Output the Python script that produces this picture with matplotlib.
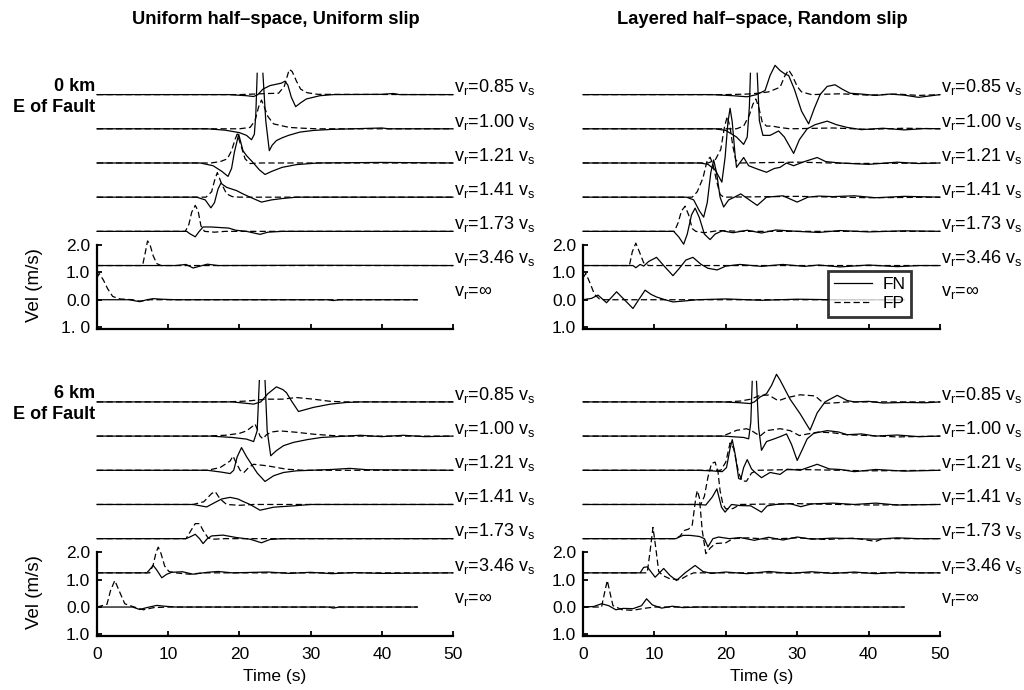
import numpy as np
import matplotlib
matplotlib.use('Agg')
import matplotlib.pyplot as plt
from matplotlib.lines import Line2D

plt.rcParams['font.family'] = ['Liberation Sans', 'DejaVu Sans']
plt.rcParams['mathtext.fontset'] = 'custom'
plt.rcParams['mathtext.rm'] = 'Liberation Sans'
plt.rcParams['mathtext.it'] = 'Liberation Sans:italic'
plt.rcParams['mathtext.bf'] = 'Liberation Sans:bold'

nan = np.nan

# ---------------- labels / layout data ----------------
PANEL_TITLES = ['Uniform half\u2013space, Uniform slip', 'Layered half\u2013space, Random slip']
SITE_LABELS = ['0 km', '6 km']
ROW_RATIOS = ['0.85', '1.00', '1.21', '1.41', '1.73', '3.46', '\u221e']
ROW_OFFSETS = [7.5, 6.25, 5.0, 3.75, 2.5, 1.25, 0.0]
X_TICKS = [0, 10, 20, 30, 40, 50]
Y_TICKS = [-1, 0, 1, 2]
Y_TICKLABELS_A = ['1. 0', '0.0', '1.0', '2.0']
Y_TICKLABELS = ['1.0', '0.0', '1.0', '2.0']

# ---------------- traces: (time s, velocity m/s) ----------------
# Panel A: uniform half-space, uniform slip, 0 km
A_FN_085 = [(0, 0), (18.5, 0), (21, -0.04), (22, -0.07), (22.6, 0), (23.3, 0.2), (24.3, 0.33), (25.2, 0.38),
            (25.9, 0.42), (26.4, 0.49), (26.8, 0.35), (27.3, -0.1), (27.9, -0.44), (28.6, -0.3), (29.4, -0.16),
            (31.3, -0.04), (33.2, 0), (40, 0.01), (41.6, 0.04), (42.5, 0), (50, 0)]
A_FP_085 = [(0, 0), (20, 0), (22, 0.02), (24, 0.04), (25.5, 0.05), (26.3, 0.3), (27.0, 0.92), (27.4, 0.85),
            (28.0, 0.5), (28.6, 0.2), (29.5, 0.07), (31, 0.01), (50, 0)]
A_FN_100 = [(0, 0), (15.5, 0), (18, -0.05), (20, -0.14), (21, -0.24), (21.7, -0.4), (22.1, -0.2), (22.3, 0.5),
            (22.5, 2.03), (nan, nan), (23.3, 2.03), (23.7, 0.3), (24.2, -0.8), (24.6, -0.6), (25.2, -0.43),
            (26, -0.33), (26.9, -0.24), (28.5, -0.12), (30.4, -0.06), (33, -0.02), (36, 0), (40, 0.03),
            (41, 0), (50, 0)]
A_FP_100 = [(0, 0), (20, 0), (21.5, 0.05), (22.2, 0.3), (22.7, 0.8), (23.1, 1.05), (23.5, 0.8), (24.0, 0.45),
            (24.8, 0.18), (25.8, 0.12), (27, 0.05), (29, 0.02), (31, 0), (50, 0)]
A_FN_121 = [(0, 0), (14.5, 0), (16.3, -0.1), (17.5, -0.3), (18.4, -0.49), (18.9, -0.2), (19.3, 0.4),
            (19.9, 1.05), (20.5, 0.45), (21.0, 0.27), (21.9, 0.02), (22.8, -0.25), (23.6, -0.42), (24.6, -0.3),
            (26, -0.16), (28, -0.06), (31, 0), (40, 0.02), (50, 0)]
A_FP_121 = [(0, 0), (16, 0), (17.3, 0.05), (18.3, 0.15), (18.9, 0.45), (19.4, 0.87), (19.7, 1.06),
            (20.3, 0.57), (20.8, 0.15), (21.5, -0.02), (23, 0), (50, 0)]
A_FN_141 = [(0, 0), (14, 0), (15.2, -0.1), (16.0, -0.39), (16.5, -0.2), (17.0, 0.3), (17.4, 0.51),
            (18.2, 0.36), (19.6, 0.24), (20.5, 0.12), (21.5, 0), (23.1, -0.18), (24.5, -0.1), (26, -0.05),
            (28, 0), (50, 0)]
A_FP_141 = [(0, 0), (15.3, 0), (16.1, 0.2), (16.5, 0.6), (16.9, 0.9), (17.5, 0.49), (18.2, 0.12), (19, 0.02),
            (20, 0), (50, 0)]
A_FN_173 = [(0, 0), (12.6, 0), (13.0, -0.08), (13.8, -0.2), (14.3, -0.02), (14.9, 0.16), (16, 0.16),
            (18.5, 0.12), (19.5, 0.04), (21, 0), (22.9, -0.11), (24, -0.03), (26, 0), (50, 0)]
A_FP_173 = [(0, 0), (12.4, 0), (12.9, 0.25), (13.3, 0.7), (13.8, 0.95), (14.2, 0.75), (14.6, 0.2), (15.1, 0),
            (16.5, -0.03), (18, 0), (50, 0)]
A_FN_346 = [(0, 0), (11, 0), (12.5, 0.04), (13.5, -0.09), (14.5, -0.02), (15.5, 0.05), (17, 0), (30, 0.01),
            (50, 0)]
A_FP_346 = [(0, 0), (6.4, 0), (6.8, 0.5), (7.1, 0.9), (7.4, 0.8), (7.9, 0.35), (8.4, 0.07), (9, 0), (50, 0)]
A_FN_INF = [(0, 0), (4.5, 0), (6.0, -0.07), (7, 0), (7.9, 0.04), (9, 0.02), (11, 0), (32.5, 0),
            (33.2, -0.03), (34, 0), (45, 0)]
A_FP_INF = [(0, 0.8), (0.3, 0.96), (0.9, 0.72), (1.5, 0.4), (2.2, 0.12), (3.2, 0.03), (5, 0), (6, -0.05),
            (7.5, 0), (45, 0)]

# Panel B: layered half-space, random slip, 0 km
B_FN_085 = [(0, 0), (18, 0), (21, -0.04), (23, -0.08), (24.3, 0), (25.5, 0.15), (26.2, 0.7), (26.9, 1.07),
            (27.6, 0.88), (28.3, 0.75), (28.8, 0.7), (29.6, 0.2), (30.6, -0.6), (31.6, -1.07), (32.4, -0.5),
            (33.2, 0), (34.2, 0.3), (35.3, 0.36), (36.3, 0.2), (37.4, 0.05), (39, 0.02), (41, -0.03),
            (43, 0.02), (45, -0.02), (47, -0.1), (48.5, -0.05), (50, 0)]
B_FP_085 = [(0, 0), (20, 0), (23, 0.02), (24.5, 0.05), (26, 0.1), (27.6, 0.27), (28.3, 0.7), (28.8, 0.9),
            (29.3, 0.7), (30, 0.3), (30.6, 0.1), (32, 0), (36, 0.03), (40, -0.02), (44, 0.02), (47, -0.03),
            (50, 0)]
B_FN_100 = [(0, 0), (18.5, 0), (20, -0.06), (21.5, -0.3), (22.5, -0.57), (23.0, -0.3), (23.3, 0.8),
            (23.45, 2.03), (nan, nan), (24.4, 2.03), (24.7, 0.3), (25.2, -0.24), (26.2, -0.24), (27.4, -0.08),
            (28.2, -0.3), (29.5, -0.9), (30.3, -0.4), (31.4, 0), (32.5, 0.15), (34.2, 0.28), (35.5, 0.15),
            (37, 0.05), (39, -0.03), (42, 0.02), (45, -0.04), (48, 0.01), (50, 0)]
B_FP_100 = [(0, 0), (21.5, 0), (22.5, 0.1), (23.3, 0.5), (23.8, 0.9), (24.2, 1.09), (24.6, 0.8), (25.1, 0.25),
            (25.7, 0.1), (26.5, 0.1), (27.5, 0.05), (29, 0), (35, 0.03), (40, -0.02), (45, 0.02), (50, 0)]
B_FN_121 = [(0, 0), (16.4, 0), (17.5, -0.05), (18.5, -0.25), (19.45, -0.7), (19.9, 0.2), (20.3, 1.5),
            (20.6, 2.0), (20.9, 1.5), (21.3, 0.3), (21.5, -0.16), (22.5, 0.2), (23.2, -0.1), (24.4, -0.22),
            (25.7, -0.34), (26.8, -0.2), (27.6, -0.16), (28.5, 0), (29.5, -0.1), (31, 0.05), (32.8, 0.2),
            (34, 0.05), (36, 0.0), (40, -0.05), (44, 0.03), (47, -0.02), (50, 0)]
B_FP_121 = [(0, 0), (17.5, 0), (18.5, 0.1), (19.3, 0.5), (19.8, 1.3), (20.2, 1.7), (20.6, 1.3), (21.0, 0.6),
            (21.4, 0.1), (22, 0), (30, 0.03), (38, -0.02), (50, 0)]
B_FN_141 = [(0, 0), (14.5, 0), (15.5, -0.1), (16.3, -0.5), (16.9, -0.73), (17.4, -0.2), (17.9, 0.9),
            (18.3, 1.36), (18.7, 0.9), (19.2, 0), (19.7, -0.36), (20.4, -0.1), (21.2, 0), (22.1, 0.12),
            (23.3, -0.1), (24.4, -0.3), (25.7, 0), (28, 0.05), (30, -0.18), (31.5, 0), (33, 0.04),
            (35, 0.02), (38, 0.05), (41, -0.02), (45, 0.03), (50, 0)]
B_FP_141 = [(0, 0), (15.3, 0), (16.0, 0.2), (16.8, 0.7), (17.4, 1.35), (17.8, 1.46), (18.2, 1.2), (18.7, 0.6),
            (19.2, 0.1), (19.7, 0), (30, 0.03), (40, -0.02), (50, 0)]
B_FN_173 = [(0, 0), (12.7, 0), (13.4, -0.2), (14.1, -0.47), (14.6, -0.1), (15.2, 0.6), (15.7, 0.85),
            (16.3, 0.5), (17.0, -0.1), (17.8, -0.3), (18.5, -0.1), (19.5, 0.02), (21, -0.05), (23, 0.04),
            (25, -0.06), (27, 0.05), (30, 0), (33, -0.04), (36, 0.03), (40, -0.02), (45, 0.02), (50, 0)]
B_FP_173 = [(0, 0), (12.8, 0), (13.3, 0.3), (13.8, 0.75), (14.3, 0.92), (14.8, 0.6), (15.3, 0.1), (15.8, 0),
            (17, -0.05), (19, 0.03), (22, 0), (50, 0)]
B_FN_346 = [(0, 0), (7, 0), (7.4, -0.08), (8.0, 0.04), (8.5, -0.02), (9.2, 0.15), (10.3, 0.3), (11.3, 0.0),
            (12.6, -0.37), (13.5, -0.1), (14.4, 0.2), (15.4, 0.3), (16.5, 0.05), (17.5, -0.1), (18.8, -0.16),
            (20, -0.02), (22, 0.04), (25, -0.03), (28, 0.04), (31, -0.03), (33, 0.02), (36, -0.05),
            (40, 0.02), (44, -0.04), (47, 0), (50, 0)]
B_FP_346 = [(0, 0), (6.5, 0), (6.9, 0.5), (7.4, 0.82), (7.9, 0.5), (8.5, 0.1), (9.2, 0), (50, 0)]
B_FN_INF = [(0, 0), (1.2, 0.05), (2.1, 0.17), (3.3, -0.11), (4.7, 0.29), (5.8, 0), (7.0, -0.32), (7.8, 0),
            (8.7, 0.35), (9.5, 0.2), (10.3, 0.1), (11.5, 0), (12.6, -0.08), (14, -0.05), (16, 0), (20, 0.03),
            (25, -0.02), (30, 0.02), (35, 0), (45, 0)]
B_FP_INF = [(0, 0.8), (0.4, 0.96), (1.0, 0.6), (1.6, 0.2), (2.3, 0.03), (3, 0), (45, 0)]

# Panel C: uniform half-space, uniform slip, 6 km
C_FN_085 = [(0, 0), (19, 0), (22, -0.08), (23.0, 0), (24, 0.3), (25.2, 0.55), (26.1, 0.45), (26.6, 0.34),
            (27.4, 0), (28.3, -0.35), (30.4, -0.2), (32.8, -0.08), (35, -0.02), (37, 0), (50, 0)]
C_FP_085 = [(0, 0), (16, 0), (19, 0.01), (21, 0.03), (23.8, 0.1), (26, 0.1), (28, 0.16), (30.4, 0.1),
            (32.8, 0.02), (35, 0), (50, 0)]
C_FN_100 = [(0, 0), (16, 0), (19, -0.05), (21, -0.11), (22, -0.2), (22.5, 0.2), (22.8, 2.03), (nan, nan),
            (23.6, 2.03), (23.9, 0.2), (24.4, -0.72), (25.2, -0.53), (26.2, -0.35), (27.6, -0.23),
            (29.5, -0.13), (31.5, -0.05), (35, 0), (37, 0.03), (40, -0.02), (43, 0.03), (46, -0.02), (50, 0)]
C_FP_100 = [(0, 0), (15, 0), (18, 0.03), (20, 0.1), (21, 0.19), (21.8, 0.35), (22.2, 0.44), (22.6, 0.2),
            (22.9, 0), (23.3, -0.1), (23.8, 0.05), (24.5, 0.15), (25.7, 0.19), (28, 0.14), (30.4, 0.07),
            (33, 0.02), (35, 0), (50, 0)]
C_FN_121 = [(0, 0), (15.5, 0), (17.3, -0.06), (18.7, -0.12), (19.2, 0.0), (19.7, 0.5), (20.3, 0.83),
            (21.0, 0.5), (21.7, 0.22), (22.5, -0.1), (23.6, -0.41), (24.8, -0.2), (26.2, -0.08), (28, -0.02),
            (30, 0), (33, 0.03), (35.5, 0.07), (38, 0.02), (50, 0)]
C_FP_121 = [(0, 0), (15.5, 0), (17.3, 0.1), (18.7, 0.34), (19.1, 0.52), (19.5, 0.3), (20.1, 0), (20.6, -0.09),
            (21.3, 0.1), (22, 0.22), (24, 0.16), (26.6, 0.04), (29, 0), (50, 0)]
C_FN_141 = [(0, 0), (13.5, 0), (15.4, -0.09), (16.4, 0.05), (17.5, 0.2), (18.7, 0.26), (19.8, 0.2),
            (20.6, 0.1), (21.5, 0), (22.9, -0.21), (24.8, -0.1), (27.6, -0.05), (30, 0), (50, 0)]
C_FP_141 = [(0, 0), (13.5, 0), (15, 0.1), (16.1, 0.4), (16.6, 0.47), (17.3, 0.2), (18.2, 0), (20, -0.03),
            (22, 0), (50, 0)]
C_FN_173 = [(0, 0), (12.5, 0), (13.2, 0.08), (13.8, 0.16), (14.4, 0), (14.9, -0.18), (15.5, 0), (16.1, 0.1),
            (17.7, 0.13), (19.6, 0.04), (21.5, -0.02), (23.1, -0.15), (24.3, -0.03), (26, 0), (50, 0)]
C_FP_173 = [(0, 0), (12.5, 0), (13.2, 0.3), (13.8, 0.55), (14.4, 0.55), (14.9, 0.3), (15.6, 0.03),
            (16.3, -0.02), (18, 0), (50, 0)]
C_FN_346 = [(0, 0), (7, 0), (7.9, 0.27), (8.4, 0.1), (9.1, -0.18), (9.8, -0.05), (10.5, 0.02), (12, 0.04),
            (13.5, -0.05), (15.5, 0.02), (17, 0.05), (19, 0), (24, 0.03), (27, -0.02), (30, 0.02),
            (33, -0.03), (36, 0.01), (40, -0.02), (50, 0)]
C_FP_346 = [(0, 0), (7.4, 0), (7.9, 0.3), (8.3, 0.75), (8.6, 0.94), (9.0, 0.7), (9.5, 0.25), (10.1, 0.05),
            (11, 0), (13, -0.05), (15, 0), (50, 0)]
C_FN_INF = [(0, 0), (5, 0), (6.0, -0.09), (7, -0.02), (8.4, 0.06), (9.5, 0.03), (11, 0), (32.5, 0),
            (33.2, -0.04), (34, 0), (45, 0)]
C_FP_INF = [(0, 0), (1.4, 0.1), (1.9, 0.6), (2.5, 0.97), (3.1, 0.6), (3.9, 0.12), (5, 0.02), (6.5, -0.1),
            (8, -0.02), (10, 0), (45, 0)]

# Panel D: layered half-space, random slip, 6 km
D_FN_085 = [(0, 0), (19.5, 0), (22, -0.03), (23.4, -0.06), (24.0, 0), (24.8, 0.18), (25.7, 0.3), (26.4, 0.6),
            (27.1, 1.01), (27.6, 0.8), (28.1, 0.55), (29.0, 0.1), (30.4, -0.43), (31.8, -1.03), (32.8, -0.4),
            (33.9, 0), (35.6, 0.24), (37, 0.05), (38, 0), (40, 0.02), (42, -0.04), (45, -0.02), (48, -0.03),
            (50, 0)]
D_FP_085 = [(0, 0), (20, 0), (22, 0.03), (23.5, 0.1), (24.8, 0.24), (26, 0.25), (27.3, 0.05), (27.8, 0.08),
            (28.5, 0.15), (30.4, 0.26), (32.5, 0.22), (33.7, -0.05), (35, -0.04), (37, 0), (50, 0)]
D_FN_100 = [(0, 0), (19.7, 0), (22.5, -0.05), (23.2, -0.1), (23.5, 0.5), (23.7, 2.0), (nan, nan), (24.3, 2.0),
            (24.6, 0.3), (25.0, -0.52), (25.7, -0.2), (26.8, -0.1), (27.8, 0), (28.5, 0.08), (29.2, -0.3),
            (30.0, -0.89), (30.7, -0.5), (31.4, -0.1), (32.3, 0.1), (34.2, 0.2), (35.8, 0.15), (37, 0.05),
            (39, 0.08), (41, 0), (44, 0.04), (47, -0.02), (50, 0)]
D_FP_100 = [(0, 0), (19.5, 0), (20.5, 0.1), (21.5, 0.21), (22.9, 0.27), (23.6, 0.2), (24.8, 0), (25.7, 0.2),
            (27.6, 0.27), (29.0, 0.2), (30.3, 0.02), (31.5, 0.08), (33, 0.15), (35, 0.12), (37, 0.05),
            (40, 0.02), (44, -0.03), (50, 0)]
D_FN_121 = [(0, 0), (16, 0), (18, -0.02), (19.5, -0.05), (20.1, 0.1), (20.6, 0.8), (20.9, 1.12), (21.3, 0.6),
            (21.8, -0.3), (22.1, -0.33), (22.5, 0.1), (23.0, 0.39), (23.6, 0.05), (24.2, -0.1), (25.0, -0.27),
            (26.2, -0.08), (27.6, -0.15), (28.6, 0.04), (30.4, 0), (32.8, 0.22), (34.5, 0.05), (36, 0.03),
            (38, -0.05), (41, 0.03), (45, -0.03), (50, 0)]
D_FP_121 = [(0, 0), (19.3, 0), (20.0, 0.3), (20.6, 1.0), (21.1, 0.8), (21.8, -0.1), (22.3, -0.39),
            (22.9, -0.4), (23.6, -0.1), (24.5, 0), (30, 0.03), (40, -0.02), (50, 0)]
D_FN_141 = [(0, 0), (16, 0), (17.2, -0.02), (18.1, 0.27), (18.75, 0.57), (19.4, -0.1), (19.9, -0.28),
            (20.8, 0), (22, -0.04), (23.5, -0.05), (25.0, -0.28), (25.8, -0.05), (27, 0), (29, 0.03),
            (30.5, -0.08), (32, 0.02), (35, 0.05), (38, 0), (41, 0.05), (44, -0.02), (50, 0)]
D_FP_141 = [(0, 0), (16.5, 0), (17.0, 0.3), (17.5, 1.0), (18.0, 1.5), (18.5, 1.55), (18.9, 1.2), (19.2, 0.5),
            (19.6, 0), (20.0, -0.16), (21, -0.15), (22, 0), (30, 0.03), (40, -0.02), (50, 0)]
D_FN_173 = [(0, 0), (13, 0), (14.0, 0.12), (15, 0.12), (16.3, 0.08), (17.0, 0), (17.5, -0.3), (18.2, 0),
            (19, 0.06), (20.5, 0), (22, 0.04), (24, -0.06), (26, 0.05), (28, -0.05), (30, 0.06), (32, -0.02),
            (35, 0.02), (38, 0), (41, -0.02), (44, 0.03), (47, 0.0), (50, 0)]
D_FP_173 = [(0, 0), (13.0, 0), (13.6, 0.1), (14.2, 0.3), (14.8, 0.35), (15.3, 0.5), (15.8, 1.5), (16.0, 1.76),
            (16.3, 1.5), (16.7, 0.3), (17.2, -0.55), (17.8, -0.35), (18.5, -0.18), (20, -0.15), (21, 0),
            (23, 0.03), (26, -0.02), (30, 0.03), (34, -0.03), (38, 0.02), (41, -0.1), (42, 0), (50, 0)]
D_FN_346 = [(0, 0), (8, 0), (8.5, 0.2), (9.0, 0.22), (10.1, -0.16), (11.3, 0.16), (12.2, -0.1), (13.1, -0.28),
            (14.3, 0), (15.7, 0.27), (16.8, 0.05), (18, -0.02), (20, 0.03), (23, -0.03), (26, 0.05),
            (29, -0.02), (32, 0.04), (35, -0.02), (38, 0.03), (41, -0.03), (44, 0.02), (47, 0), (50, 0)]
D_FP_346 = [(0, 0), (9.0, 0), (9.4, 0.8), (9.8, 1.66), (10.2, 0.9), (10.6, 0.05), (11.2, -0.1), (12.2, -0.22),
            (13.6, -0.25), (14.6, -0.1), (15.5, 0), (50, 0)]
D_FN_INF = [(0, 0), (1.5, 0.02), (2.6, 0.12), (3.6, 0.05), (4.6, -0.1), (5.6, -0.05), (7, -0.06), (8.2, 0.05),
            (8.9, 0.3), (9.7, 0.08), (11, -0.04), (12.5, 0.03), (14, -0.02), (16, 0), (45, 0)]
D_FP_INF = [(0, 0), (2.6, 0), (3.0, 0.5), (3.4, 0.97), (3.8, 0.5), (4.2, 0.05), (5.5, -0.1), (7, -0.12),
            (8.5, -0.05), (10, 0), (45, 0)]

PANEL_FN = {
    'A': [A_FN_085, A_FN_100, A_FN_121, A_FN_141, A_FN_173, A_FN_346, A_FN_INF],
    'B': [B_FN_085, B_FN_100, B_FN_121, B_FN_141, B_FN_173, B_FN_346, B_FN_INF],
    'C': [C_FN_085, C_FN_100, C_FN_121, C_FN_141, C_FN_173, C_FN_346, C_FN_INF],
    'D': [D_FN_085, D_FN_100, D_FN_121, D_FN_141, D_FN_173, D_FN_346, D_FN_INF],
}
PANEL_FP = {
    'A': [A_FP_085, A_FP_100, A_FP_121, A_FP_141, A_FP_173, A_FP_346, A_FP_INF],
    'B': [B_FP_085, B_FP_100, B_FP_121, B_FP_141, B_FP_173, B_FP_346, B_FP_INF],
    'C': [C_FP_085, C_FP_100, C_FP_121, C_FP_141, C_FP_173, C_FP_346, C_FP_INF],
    'D': [D_FP_085, D_FP_100, D_FP_121, D_FP_141, D_FP_173, D_FP_346, D_FP_INF],
}

# ---------------- figure ----------------
W, H = 1024, 690
fig = plt.figure(figsize=(W / 100, H / 100), dpi=100)
YLO, YHI = -1.07, 9.2
PX_PER_UNIT = 27.35
ax_h = (YHI - YLO) * PX_PER_UNIT / H
POS = {
    'A': [97 / W, (H - 329) / H, 356 / W, ax_h],
    'B': [583 / W, (H - 329) / H, 357 / W, ax_h],
    'C': [97 / W, (H - 636.3) / H, 356 / W, ax_h],
    'D': [583 / W, (H - 636.3) / H, 357 / W, ax_h],
}
LW = 0.9
DASH = (0, (5, 2.6))
FS = 12.5

axes = {}
for key in 'ABCD':
    ax = fig.add_axes(POS[key])
    axes[key] = ax
    ax.set_xlim(0, 50)
    ax.set_ylim(YLO, YHI)
    for sp in ('top', 'right'):
        ax.spines[sp].set_visible(False)
    ax.spines['left'].set_bounds(YLO, 2.0)
    ax.spines['bottom'].set_bounds(0, 50)
    ax.spines['left'].set_linewidth(1.6)
    ax.spines['bottom'].set_linewidth(1.6)
    ax.set_xticks(X_TICKS)
    ax.set_yticks(Y_TICKS)
    ax.set_yticklabels(Y_TICKLABELS_A if key == 'A' else Y_TICKLABELS)
    ax.tick_params(direction='in', length=3.5, width=1.3, labelsize=12.5, pad=5)
    ax.tick_params(axis='x', pad=8)
    if key in 'AB':
        ax.tick_params(axis='x', labelbottom=False)
    else:
        ax.set_xlabel('Time (s)', fontsize=FS, labelpad=5)
    if key in 'AC':
        ax.text(-8.8, 0.55, 'Vel (m/s)', rotation=90, ha='center', va='center', fontsize=13.5, clip_on=False)

    for off, ratio, fn, fp in zip(ROW_OFFSETS, ROW_RATIOS, PANEL_FN[key], PANEL_FP[key]):
        a = np.array(fn, dtype=float)
        b = np.array(fp, dtype=float)
        ax.plot(a[:, 0], a[:, 1] + off, color='k', lw=LW, clip_on=False)
        ax.plot(b[:, 0], b[:, 1] + off, color='k', lw=LW, ls=DASH, clip_on=False)
        if ratio == '\u221e':
            lab = r'v$_\mathregular{r}$=' + ratio
            dy = 0.15
        else:
            lab = r'v$_\mathregular{r}$=' + ratio + r' v$_\mathregular{s}$'
            dy = 0.08
        ax.text(50.1, off + dy, lab, ha='left', va='baseline', fontsize=13, clip_on=False)

for key, site in (('A', SITE_LABELS[0]), ('C', SITE_LABELS[1])):
    ax = axes[key]
    ax.text(-0.3, 7.65, site, ha='right', va='baseline', fontsize=13, fontweight='bold', clip_on=False)
    ax.text(-0.3, 6.87, 'E of Fault', ha='right', va='baseline', fontsize=13, fontweight='bold',
            clip_on=False)

fig.text(276 / W, 1 - 20 / H, PANEL_TITLES[0], ha='center', va='center', fontsize=13.2, fontweight='bold')
fig.text(762 / W, 1 - 20 / H, PANEL_TITLES[1], ha='center', va='center', fontsize=13.2, fontweight='bold')

handles = [Line2D([], [], color='k', lw=LW), Line2D([], [], color='k', lw=LW, ls=DASH)]
leg = axes['B'].legend(handles, ['FN', 'FP'], loc='upper left', bbox_to_anchor=(0.685, 0.206),
                       fontsize=FS, frameon=True, fancybox=False, handlelength=2.2, borderpad=0.35,
                       labelspacing=0.2, handletextpad=0.6, borderaxespad=0)
leg.get_frame().set_edgecolor('k')
leg.get_frame().set_linewidth(2.0)

fig.savefig('out.png', dpi=100)
